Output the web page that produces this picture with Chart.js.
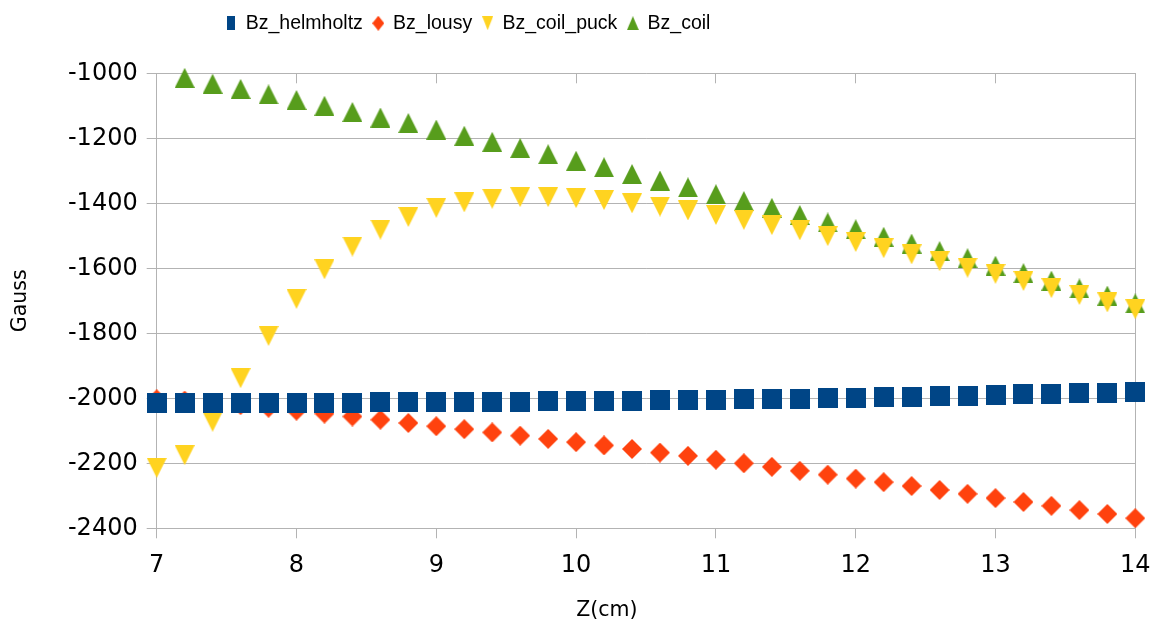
<!DOCTYPE html>
<html>
<head>
<meta charset="utf-8">
<script src="https://cdn.jsdelivr.net/npm/chart.js@4/dist/chart.umd.min.js"></script>
<style>
  html, body { margin: 0; padding: 0; background: #fff; }
  #wrap { width: 1156px; height: 628px; }
</style>
</head>
<body>
<div id="wrap"><canvas id="chart" width="1156" height="628"></canvas></div>
<script>
const Z_CM = [7.0, 7.2, 7.4, 7.6, 7.8, 8.0, 8.2, 8.4, 8.6, 8.8, 9.0, 9.2, 9.4, 9.6, 9.8, 10.0, 10.2, 10.4,
  10.6, 10.8, 11.0, 11.2, 11.4, 11.6, 11.8, 12.0, 12.2, 12.4, 12.6, 12.8, 13.0, 13.2, 13.4, 13.6, 13.8, 14.0];

const BZ_HELMHOLTZ = [-2015, -2015, -2015, -2014, -2014, -2014, -2013, -2013, -2012, -2012, -2011, -2011,
  -2010, -2010, -2009, -2008, -2008, -2007, -2006, -2005, -2004, -2003, -2002, -2001,
  -1999, -1998, -1997, -1995, -1994, -1992, -1990, -1988, -1987, -1985, -1983, -1980];

const BZ_LOUSY = [-2003, -2007, -2013, -2021, -2029, -2038, -2047, -2056, -2066, -2076, -2086, -2095,
  -2105, -2115, -2125, -2135, -2145, -2156, -2167, -2177, -2189, -2200, -2211, -2223,
  -2235, -2247, -2258, -2270, -2282, -2294, -2307, -2319, -2331, -2344, -2356, -2369];

const BZ_COIL_PUCK = [-2214, -2175, -2072, -1938, -1808, -1694, -1603, -1533, -1481, -1442, -1414, -1397,
  -1386, -1381, -1381, -1384, -1390, -1400, -1410, -1422, -1436, -1451, -1467, -1483,
  -1501, -1519, -1538, -1557, -1578, -1598, -1617, -1639, -1661, -1682, -1705, -1726];

// first point sits above the -1000 edge and is not shown in the original
const BZ_COIL = [null, -1014, -1032, -1048, -1065, -1082, -1100, -1119, -1136, -1153, -1173, -1192,
  -1211, -1230, -1249, -1269, -1289, -1310, -1330, -1351, -1372, -1393, -1414, -1436,
  -1459, -1480, -1503, -1524, -1547, -1569, -1592, -1615, -1638, -1662, -1684, -1708];

const SERIES_NAMES = ["Bz_helmholtz", "Bz_lousy", "Bz_coil_puck", "Bz_coil"];
const SERIES_COLORS = ["#004586", "#ff420e", "#ffd320", "#579d1c"];
const SERIES_SHAPES = ["square", "diamond", "down", "up"];

const X_TICKS = [7, 8, 9, 10, 11, 12, 13, 14];
const Y_TICKS = [-2400, -2200, -2000, -1800, -1600, -1400, -1200, -1000];

const GRID = "#b3b3b3";
const LEGEND_FONT = "'Liberation Sans', Arial, sans-serif";
const AXIS_FONT = "'DejaVu Sans', sans-serif";

function marker(shape, w, h, color) {
  const c = document.createElement("canvas");
  c.width = w;
  c.height = h;
  const g = c.getContext("2d");
  g.fillStyle = color;
  g.beginPath();
  if (shape === "square") {
    g.rect(0, 0, w, h);
  } else if (shape === "diamond") {
    g.moveTo(w / 2, 0); g.lineTo(w, h / 2); g.lineTo(w / 2, h); g.lineTo(0, h / 2);
  } else if (shape === "up") {
    g.moveTo(w / 2, 0); g.lineTo(w, h); g.lineTo(0, h);
  } else {
    g.moveTo(0, 0); g.lineTo(w, 0); g.lineTo(w / 2, h);
  }
  g.closePath();
  g.fill();
  return c;
}

const pointMarkers = SERIES_SHAPES.map((s, i) => marker(s, 20, 20, SERIES_COLORS[i]));
const legendSizes = [[8, 14], [12, 15], [11, 14], [12, 14]];
const legendMarkers = SERIES_SHAPES.map((s, i) => marker(s, legendSizes[i][0], legendSizes[i][1], SERIES_COLORS[i]));

const seriesValues = [BZ_HELMHOLTZ, BZ_LOUSY, BZ_COIL_PUCK, BZ_COIL];
const datasets = seriesValues.map((vals, i) => ({
  label: SERIES_NAMES[i],
  data: Z_CM.map((z, j) => ({ x: z, y: vals[j] })),
  pointStyle: pointMarkers[i],
  pointRadius: 10,
  pointHoverRadius: 10,
  backgroundColor: SERIES_COLORS[i],
  borderColor: SERIES_COLORS[i],
  showLine: false,
  clip: false,
}));

// move the legend row where the original has it
const legendPlace = {
  id: "legendPlace",
  afterLayout(chart) {
    const lg = chart.legend;
    lg.left = 215.5;
    lg.right = chart.width;
    lg.top = 3;
  },
};

new Chart(document.getElementById("chart"), {
  type: "scatter",
  data: { datasets },
  options: {
    responsive: false,
    animation: false,
    layout: { padding: { top: 33.3, right: 20.7, bottom: 0, left: 0 } },
    plugins: {
      tooltip: { enabled: false },
      legend: {
        position: "top",
        align: "start",
        labels: {
          usePointStyle: true,
          boxWidth: 10,
          boxHeight: 10,
          padding: 10.5,
          color: "#000",
          font: { family: LEGEND_FONT, size: 19.5 },
          generateLabels(chart) {
            return chart.data.datasets.map((ds, i) => ({
              text: ds.label,
              pointStyle: legendMarkers[i],
              fillStyle: SERIES_COLORS[i],
              strokeStyle: SERIES_COLORS[i],
              lineWidth: 0,
              hidden: false,
              datasetIndex: i,
            }));
          },
        },
      },
    },
    scales: {
      x: {
        type: "linear",
        position: "bottom",
        min: X_TICKS[0],
        max: X_TICKS[X_TICKS.length - 1],
        afterBuildTicks(scale) { scale.ticks = X_TICKS.map(v => ({ value: v })); },
        afterFit(scale) {
          scale.height = 99.7;
          scale.paddingLeft = 0;
          scale.paddingRight = 0;
        },
        ticks: {
          color: "#000",
          padding: 13,
          maxRotation: 0,
          font: { family: AXIS_FONT, size: 24 },
          callback: v => String(v),
        },
        grid: { color: GRID, lineWidth: 1, tickLength: 10, tickColor: GRID },
        border: { display: true, color: GRID, dash: [10, 2000] },
        title: {
          display: true,
          text: "Z(cm)" + "\u00a0".repeat(12),
          color: "#000",
          font: { family: AXIS_FONT, size: 20.5 },
          padding: { top: 0, bottom: 4.7 },
        },
      },
      y: {
        type: "linear",
        position: "left",
        min: Y_TICKS[0],
        max: Y_TICKS[Y_TICKS.length - 1],
        afterBuildTicks(scale) { scale.ticks = Y_TICKS.map(v => ({ value: v })); },
        afterFit(scale) { scale.width = 156.7; },
        ticks: {
          color: "#000",
          padding: 9,
          font: { family: AXIS_FONT, size: 24 },
          callback: v => String(v),
        },
        grid: { color: GRID, lineWidth: 1, tickLength: 10, tickColor: GRID },
        border: { display: true, color: GRID },
        title: {
          display: true,
          text: "Gauss",
          color: "#000",
          font: { family: AXIS_FONT, size: 20.5 },
          padding: { top: 8, bottom: 0 },
        },
      },
      yRight: {
        type: "linear",
        position: "right",
        min: Y_TICKS[0],
        max: Y_TICKS[Y_TICKS.length - 1],
        ticks: { display: false },
        grid: { drawOnChartArea: false, drawTicks: false },
        border: { display: true, color: GRID },
      },
    },
  },
  plugins: [legendPlace],
});
</script>
</body>
</html>
